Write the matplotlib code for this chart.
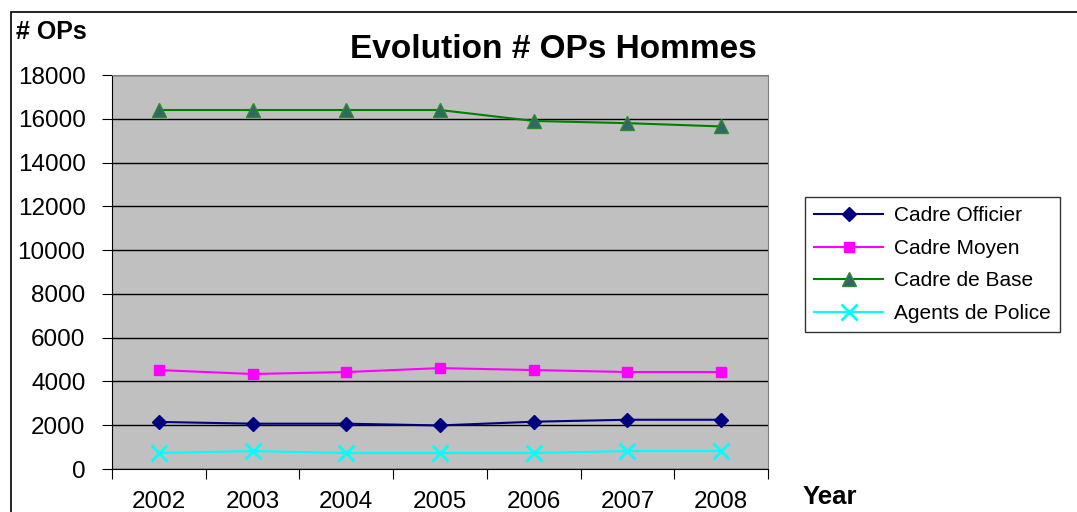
import matplotlib
matplotlib.use("Agg")
import matplotlib.pyplot as plt
from matplotlib.patches import Rectangle
import numpy as np

plt.rcParams['font.family'] = ['Liberation Sans', 'DejaVu Sans']

years = ["2002", "2003", "2004", "2005", "2006", "2007", "2008"]
cadre_officier = [2150, 2070, 2070, 1990, 2160, 2250, 2250]
cadre_moyen = [4520, 4340, 4430, 4610, 4520, 4430, 4430]
cadre_base = [16400, 16400, 16400, 16400, 15900, 15800, 15650]
agents_police = [730, 820, 730, 730, 730, 820, 820]

fig = plt.figure(figsize=(10.77, 5.12), dpi=100)
# outer chart border
fig.patches.append(Rectangle((11/1077, -0.1), 1.2, 1 - 12/512 + 0.1, transform=fig.transFigure,
                             fill=False, edgecolor='black', linewidth=1.2))

ax = fig.add_axes([112/1077, 1 - 469/512, 656/1077, 394/512])
ax.set_facecolor('#C0C0C0')
x = np.arange(len(years))

ax.plot(x, cadre_officier, color='#000080', marker='D', markersize=7.5, linewidth=1.5, label='Cadre Officier')
ax.plot(x, cadre_moyen, color='#FF00FF', marker='s', markersize=7.5, linewidth=1.5, label='Cadre Moyen')
ax.plot(x, cadre_base, color='#008000', marker='^', markersize=10, markerfacecolor='#336666',
        markeredgecolor='#2E8B2E', linewidth=1.5, label='Cadre de Base')
ax.plot(x, agents_police, color='#00FFFF', marker='x', markersize=11, markeredgewidth=2, linewidth=1.5,
        label='Agents de Police')

ax.set_xlim(-0.5, len(years) - 0.5)
ax.set_ylim(0, 18000)
ax.set_yticks(np.arange(0, 18001, 2000))
ax.yaxis.grid(True, color='black', linewidth=1)
ax.set_axisbelow(True)
ax.set_xticks(np.arange(-0.5, len(years), 1))
ax.set_xticklabels([])
ax.set_xticks(x, minor=True)
ax.set_xticklabels(years, minor=True)
ax.tick_params(axis='x', which='major', length=7, direction='out', color='black')
ax.tick_params(axis='x', which='minor', length=0, pad=16, labelsize=17.5)
ax.tick_params(axis='y', length=7, direction='out', labelsize=17.5, pad=12)
for side in ['top', 'right']:
    ax.spines[side].set_color('#808080')
ax.spines['left'].set_color('black')
ax.spines['bottom'].set_color('black')

fig.text(553/1077, 1 - 50/512, "Evolution # OPs Hommes", ha='center', va='center', fontsize=24, fontweight='bold')
fig.text(16/1077, 1 - 32/512, "# OPs", ha='left', va='center', fontsize=18, fontweight='bold')
fig.text(803/1077, 1 - 497/512, "Year", ha='left', va='center', fontsize=18.5, fontweight='bold')

leg = fig.legend(loc='upper left', bbox_to_anchor=(805/1077, 1 - 197/512), fontsize=15,
                 frameon=True, fancybox=False, edgecolor='black', borderpad=0.45, labelspacing=0.65,
                 handlelength=3.3, handletextpad=0.5, borderaxespad=0)
leg.get_frame().set_linewidth(1)

fig.savefig("out.png", dpi=100)
